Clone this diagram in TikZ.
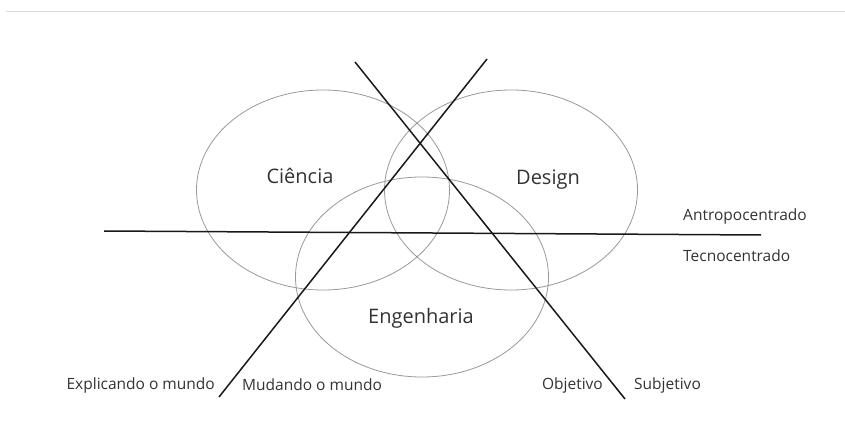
\documentclass[tikz,border=0pt]{standalone}
\usepackage{fontspec}
\setmainfont{Open Sans}
\usetikzlibrary{positioning,shapes.geometric}

\tikzset{
  campo/.style={ellipse, draw=black!40, line width=0.8pt, minimum width=253pt, minimum height=200pt, inner sep=0pt},
  eixo/.style={draw=black!90, line width=1.5pt},
  nome/.style={font=\fontsize{20}{24}\selectfont, text=black!80},
  rotulo/.style={font=\fontsize{15.5}{18}\selectfont, text=black!80, inner sep=0pt}
}

\begin{document}
\begin{tikzpicture}[x=1pt,y=-1pt]
  \useasboundingbox (0,0) rectangle (845,438);
  \draw[black!15, line width=0.8pt] (6,11) -- (845,11);

  % circulos
  \node[campo] (ciencia) at (323,190) {};
  \node[campo] (design) at (511,190) {};
  \node[campo] (engenharia) at (422,277) {};
  \node[nome] (tciencia) at (300,176) {Ciência};
  \node[nome] (tdesign) at (548,180) {Design};
  \node[nome] (tengenharia) at (421,318) {Engenharia};

  % eixos
  \coordinate (h1) at (104,231);
  \coordinate (h2) at (761,235);
  \coordinate (s1) at (355,62);
  \coordinate (s2) at (625,399);
  \coordinate (m1) at (487,59);
  \coordinate (m2) at (219,397);
  \draw[eixo] (h1) -- (h2);
  \draw[eixo] (s1) -- (s2);
  \draw[eixo] (m1) -- (m2);

  % rotulos
  \node[rotulo, anchor=west] (antropo) at (683,216) {Antropocentrado};
  \node[rotulo, anchor=west] (tecno) at (683,256) {Tecnocentrado};
  \node[rotulo, anchor=east] (explicando) at (215,385) {Explicando o mundo};
  \node[rotulo, anchor=west] (mudando) at (242,385) {Mudando o mundo};
  \node[rotulo, anchor=east] (objetivo) at (603,385) {Objetivo};
  \node[rotulo, anchor=west] (subjetivo) at (634,385) {Subjetivo};
\end{tikzpicture}
\end{document}
